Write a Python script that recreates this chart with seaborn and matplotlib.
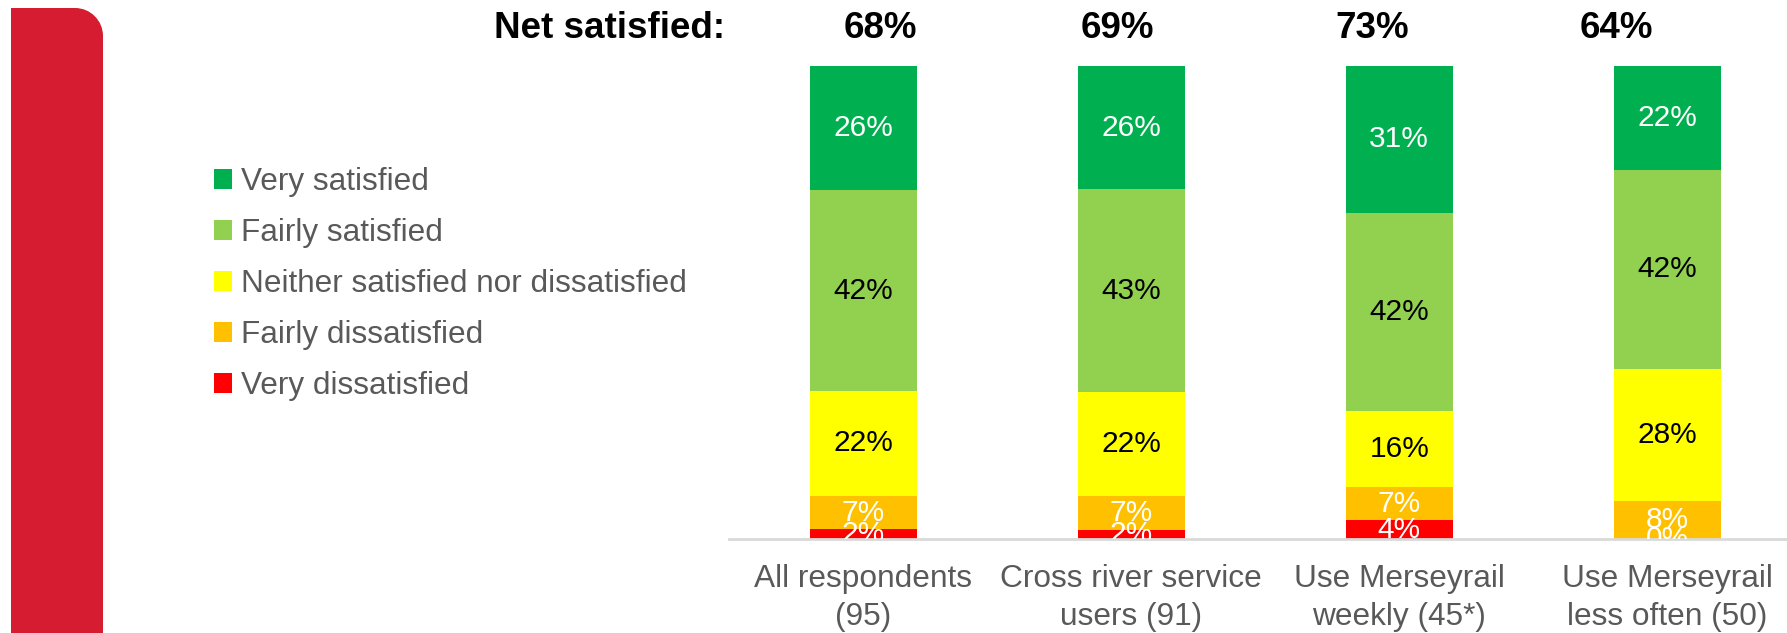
import matplotlib
matplotlib.use("Agg")
import matplotlib.pyplot as plt
from matplotlib.patches import Patch, PathPatch
from matplotlib.path import Path
import numpy as np
import pandas as pd
import seaborn as sns

# Survey results (% of respondents)
groups = ["All respondents\n(95)", "Cross river service\nusers (91)",
          "Use Merseyrail\nweekly (45*)", "Use Merseyrail\nless often (50)"]
levels = ["Very satisfied", "Fairly satisfied", "Neither satisfied nor dissatisfied",
          "Fairly dissatisfied", "Very dissatisfied"]
very_satisfied = [26, 26, 31, 22]
fairly_satisfied = [42, 43, 42, 42]
neither = [22, 22, 16, 28]
fairly_dissatisfied = [7, 7, 7, 8]
very_dissatisfied = [2, 2, 4, 0]

colors = ["#00B050", "#92D050", "#FFFF00", "#FFC000", "#FF0000"]
label_colors = ["white", "black", "black", "white", "white"]
grey = "#595959"

sns.set_theme(style="white")
plt.rcParams["font.family"] = ["Liberation Sans", "DejaVu Sans"]

series = [very_satisfied, fairly_satisfied, neither, fairly_dissatisfied, very_dissatisfied]
df = pd.DataFrame({"group": groups})
for name, vals in zip(levels, series):
    df[name] = vals

# 100% stacked: scale each bar by its own total
totals = df[levels].sum(axis=1)
share = df[levels].div(totals, axis=0) * 100

# cumulative heights from the bottom (very dissatisfied first)
bottom_up = levels[::-1]
cum = share[bottom_up].cumsum(axis=1)

fig = plt.figure(figsize=(17.87, 6.33), dpi=100)
ax = fig.add_axes([0.408, 0.1485, 0.600, 0.747])

# draw tallest cumulative layer first so each lower layer sits on top
for name in levels:
    col = colors[levels.index(name)]
    sns.barplot(data=pd.DataFrame({"group": groups, "h": cum[name]}), x="group", y="h",
                color=col, saturation=1, width=0.4, ax=ax, linewidth=0, errorbar=None)

# segment labels
for i, name in enumerate(levels):
    tops = cum[name].values
    sizes = share[name].values
    vals = df[name].values
    for x, (t, s, v) in enumerate(zip(tops, sizes, vals)):
        ax.text(x, t - s / 2, f"{v}%", ha="center", va="center", fontsize=21.5,
                color=label_colors[i], clip_on=True)

ax.set_xlim(-0.5, 3.5)
ax.set_ylim(0, 100)
ax.set_xlabel("")
ax.set_ylabel("")
ax.set_yticks([])
ax.tick_params(axis="x", length=0, pad=18, labelsize=22.8, labelcolor=grey)
for s in ["top", "right", "left"]:
    ax.spines[s].set_visible(False)
ax.spines["bottom"].set_color("#D9D9D9")
ax.spines["bottom"].set_linewidth(2)
for lbl in ax.get_xticklabels():
    lbl.set_linespacing(1.33)

# net satisfied header
net = [a + b for a, b in zip(very_satisfied, fairly_satisfied)]
fig.text(725 / 1787, 1 - 29 / 633, "Net satisfied:", ha="right", va="center",
         fontsize=26.5, fontweight="bold", color="black")
net_x = [880, 1117, 1372, 1616]
for px, v in zip(net_x, net):
    fig.text(px / 1787, 1 - 29 / 633, f"{v}%", ha="center", va="center",
             fontsize=26.5, fontweight="bold", color="black")

# legend
handles = [Patch(facecolor=c, edgecolor="none") for c in colors]
fig.legend(handles, levels, loc="upper left", bbox_to_anchor=(214 / 1787, 1 - 167 / 633),
           frameon=False, fontsize=22.7, labelcolor=grey, handlelength=0.58,
           handleheight=0.58, handletextpad=0.28, labelspacing=0.665,
           borderpad=0, borderaxespad=0)

# red side band with rounded top-right corner
W, H = 1787, 633
x0, x1, y_top = 11 / W, 103 / W, 1 - 8 / H
rx, ry = 28 / W, 28 / H
k = 0.5523
verts = [(x0, 0), (x0, y_top), (x1 - rx, y_top),
         (x1 - rx + k * rx, y_top), (x1, y_top - ry + k * ry), (x1, y_top - ry),
         (x1, 0), (x0, 0)]
codes = [Path.MOVETO, Path.LINETO, Path.LINETO,
         Path.CURVE4, Path.CURVE4, Path.CURVE4,
         Path.LINETO, Path.CLOSEPOLY]
fig.add_artist(PathPatch(Path(verts, codes), facecolor="#D61C30", edgecolor="none",
                         transform=fig.transFigure))

fig.savefig("out.png", dpi=100)
